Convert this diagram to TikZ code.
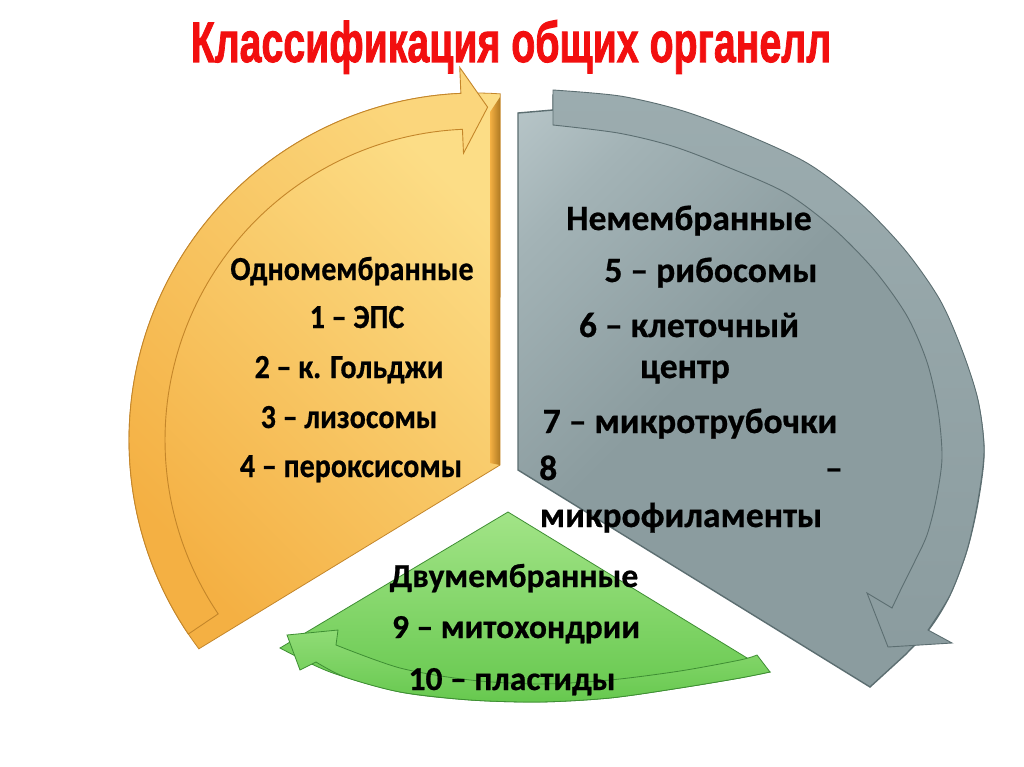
\documentclass[tikz,border=0pt]{standalone}
\usepackage{fontspec}
\setmainfont[BoldFeatures={FakeBold=0.6}]{Carlito}
\newfontfamily\titlefont[BoldFeatures={FakeBold=1.8}]{Liberation Sans}
\definecolor{orL}{HTML}{FCDD86}
\definecolor{orD}{HTML}{F4B043}
\definecolor{orE}{HTML}{C4862A}
\definecolor{orB}{HTML}{B07A22}
\definecolor{grL}{HTML}{D5E1E3}
\definecolor{grM}{HTML}{A3B3B6}
\definecolor{grD}{HTML}{8B9C9F}
\definecolor{grE}{HTML}{5C6E71}
\definecolor{gnL}{HTML}{A2E487}
\definecolor{gnD}{HTML}{66C84E}
\definecolor{gnE}{HTML}{3E8E33}
\definecolor{ttl}{HTML}{F20F0F}
\pgfdeclareverticalshading{grsh}{100bp}{color(0bp)=(grD); color(55bp)=(grD); color(75bp)=(grM); color(100bp)=(grL)}
\tikzset{
  lbl/.style={font=\fontsize{#1}{#1}\selectfont\bfseries, anchor=base, inner sep=0pt, text=black},
  orbody/.style={top color=orL, bottom color=orD, shading angle=-45, draw=orE, line width=0.8pt},
  orband/.style={top color=orL!85!orD, bottom color=orD, shading angle=-45, draw=orE, line width=0.9pt},
  grbody/.style={shading=grsh, shading angle=45, draw=grE, line width=1.4pt},
  grband/.style={top color=grM!70!grD, bottom color=grD, draw=grE, line width=0.9pt},
  gnbody/.style={top color=gnL, bottom color=gnD, draw=gnE, line width=0.8pt},
  gnband/.style={top color=gnL!70!gnD, bottom color=gnD, draw=gnE, line width=0.8pt},
}
\newcommand{\ostr}[1]{\scalebox{1}[1.12]{#1}}
\begin{document}
\begin{tikzpicture}[x=1pt,y=-1pt]
\useasboundingbox (0,0) rectangle (1024,767);
\fill[white] (0,0) rectangle (1024,767);

% ---------- orange sector ----------
\shade[orbody] (500,465) -- (198.9,648.8)
  -- plot[domain=143:274, samples=90] ({476+347*cos(\x)},{440+347*sin(\x)}) -- cycle;
\shade[left color=orD, right color=orB] (490,112) -- (500,97) -- (500,465) -- (490,463) -- cycle;
\shade[orband] plot[domain=146:267.5, samples=90] ({476+347*cos(\x)},{440+347*sin(\x)})
  -- ({476+373*cos(267.5)},{440+373*sin(267.5)})
  -- ({476+333*cos(272)},{440+333*sin(272)})
  -- ({476+287*cos(267.5)},{440+287*sin(267.5)})
  -- plot[domain=267.5:146, samples=90] ({476+311*cos(\x)},{440+311*sin(\x)}) -- cycle;

% ---------- gray sector ----------
\shade[grbody] (518,470) -- (518,113) -- (553,110)
  -- plot[smooth] coordinates {(553,95) (620,99) (680,112) (740,134) (807,165) (860,205) (905,252) (940,302) (962,352) (978,402) (984,452) (978,502) (967,550) (950,595) (930,628) (905,655)}
  -- (870,687) -- cycle;
\shade[grband] plot[smooth] coordinates {(553,90) (620,96) (680,110) (740,132) (807,163) (860,203) (905,250) (940,300) (962,350) (978,400) (984,450) (978,500) (967,550) (950,595) (928,630)}
  -- (952,643) -- (888,647) -- (867,593) -- (892,608)
  -- plot[smooth] coordinates {(892,608) (903,585) (914,563) (927,535) (936,500) (942,458) (938,410) (927,362) (907,316) (875,271) (834,229) (786,193) (725,166) (672,146) (618,133) (553,125)}
  -- cycle;

% ---------- green sector ----------
\shade[gnbody] (508,512) -- (280,648)
  -- plot[smooth] coordinates {(280,648) (330,672) (400,692) (470,700) (540,702) (610,698) (680,688) (740,678) (770,672)} -- cycle;
\shade[gnband] plot[smooth] coordinates {(770,672) (740,678) (680,688) (610,698) (540,702) (470,700) (400,692) (345,677) (316,662)}
  -- (300,670) -- (287,635) -- (338,630) -- (336,645)
  -- plot[smooth] coordinates {(336,645) (400,668) (470,680) (540,684) (610,680) (680,671) (740,660) (757,655)} -- cycle;

% ---------- title ----------
\node[anchor=base, inner sep=0pt, text=ttl] (title) at (511,62)
  {\titlefont\bfseries\fontsize{52}{52}\selectfont\scalebox{0.755}[1.1]{Классификация общих органелл}};

% ---------- orange text ----------
\node[lbl=30] (o1) at (352,280) {\ostr{Одномембранные}};
\node[lbl=30] (o2) at (357,328) {\ostr{1 – ЭПС}};
\node[lbl=30] (o3) at (349,378) {\ostr{2 – к. Гольджи}};
\node[lbl=30] (o4) at (349,428) {\ostr{3 – лизосомы}};
\node[lbl=30] (o5) at (351,477) {\ostr{4 – пероксисомы}};

% ---------- gray text ----------
\node[lbl=35.5] (g1) at (689,230) {Немембранные};
\node[lbl=35.5] (g2) at (711,282) {5 – рибосомы};
\node[lbl=35.5] (g3) at (689,337) {6 – клеточный};
\node[lbl=35.5] (g4) at (685,378) {центр};
\node[lbl=35.5] (g5) at (690,433) {7 – микротрубочки};
\node[lbl=35.5, anchor=base west] (g6a) at (539,480) {8};
\node[lbl=35.5, anchor=base east] (g6b) at (843,480) {–};
\node[lbl=35.5] (g7) at (681,527) {микрофиламенты};

% ---------- green text ----------
\node[lbl=33.5] (n1) at (514,587) {Двумембранные};
\node[lbl=33.5] (n2) at (516,638) {9 – митохондрии};
\node[lbl=33.5] (n3) at (512,690) {10 – пластиды};
\end{tikzpicture}
\end{document}
